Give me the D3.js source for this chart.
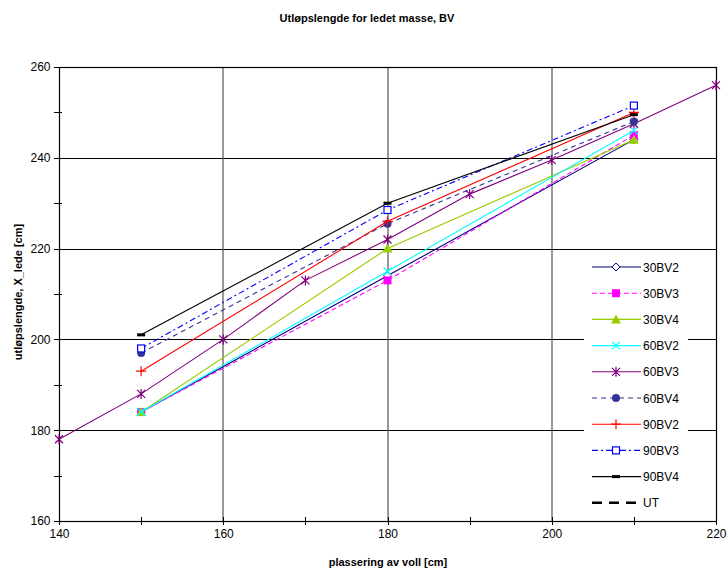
<!DOCTYPE html>
<html><head><meta charset="utf-8">
<script src="https://cdn.jsdelivr.net/npm/d3@7"></script>
<style>body{margin:0;background:#fff}svg{display:block}text{font-family:"Liberation Sans",Arial,sans-serif}</style>
</head><body>
<svg id="c" width="728" height="570"></svg>
<script>
const xA = [150, 180, 210];
const x60BV3 = [140, 150, 160, 170, 180, 190, 200, 210, 220];
const v30BV2 = [184, 214, 244];
const v30BV3 = [184, 213, 245];
const v30BV4 = [184, 220, 244];
const v60BV2 = [184, 215, 246];
const v60BV3 = [178, 188, 200, 213, 222, 232, 239.5, 247.5, 256];
const v60BV4 = [197, 225.5, 248];
const v90BV2 = [193, 226, 250];
const v90BV3 = [198, 228.5, 251.5];
const v90BV4 = [201, 230, 249.5];
const vUT = [];
const xTicks = [140, 160, 180, 200, 220];
const yTicks = [160, 180, 200, 220, 240, 260];

const series = [
  {name:"30BV2", xs:xA, ys:v30BV2, color:"#000080", dash:null, marker:"diamond", fill:false},
  {name:"30BV3", xs:xA, ys:v30BV3, color:"#FF00FF", dash:"5,3", marker:"square", fill:true},
  {name:"30BV4", xs:xA, ys:v30BV4, color:"#99CC00", dash:null, marker:"triangle", fill:true},
  {name:"60BV2", xs:xA, ys:v60BV2, color:"#00FFFF", dash:null, marker:"x", fill:false},
  {name:"60BV3", xs:x60BV3, ys:v60BV3, color:"#800080", dash:null, marker:"star", fill:false},
  {name:"60BV4", xs:xA, ys:v60BV4, color:"#333399", dash:"5,4", marker:"circle", fill:true},
  {name:"90BV2", xs:xA, ys:v90BV2, color:"#FF0000", dash:null, marker:"plus", fill:false},
  {name:"90BV3", xs:xA, ys:v90BV3, color:"#0000FF", dash:"6,3,2,3", marker:"osquare", fill:false},
  {name:"90BV4", xs:xA, ys:v90BV4, color:"#000000", dash:null, marker:"dash", fill:false},
  {name:"UT", xs:[], ys:vUT, color:"#000000", dash:"10,7", marker:null, fill:false, width:2.5}
];

const svg = d3.select("#c");
const L = 59, R = 716, T = 67, B = 521;
const x = d3.scaleLinear().domain([140, 220]).range([L, R]);
const y = d3.scaleLinear().domain([160, 260]).range([B, T]);

// gridlines
svg.append("g").selectAll("line").data(yTicks.filter(d => d > 160 && d < 260)).join("line")
  .attr("x1", L).attr("x2", R).attr("y1", d => Math.round(y(d)) + 0.5).attr("y2", d => Math.round(y(d)) + 0.5)
  .attr("stroke", "#000").attr("stroke-width", 1);
svg.append("g").selectAll("line").data(xTicks.filter(d => d > 140 && d < 220)).join("line")
  .attr("x1", d => Math.round(x(d))).attr("x2", d => Math.round(x(d))).attr("y1", T).attr("y2", B)
  .attr("stroke", "#555").attr("stroke-width", 1.2);

// axes
const xAxis = d3.axisBottom(x).tickValues(xTicks).tickSize(0).tickPadding(8).tickFormat(d3.format("d"));
const gx = svg.append("g").attr("transform", `translate(0,${B + 0.5})`).call(xAxis);
gx.select(".domain").remove();
gx.selectAll("text").attr("font-size", 12).attr("fill", "#000");
const yAxis = d3.axisLeft(y).tickValues(yTicks).tickSize(0).tickPadding(9).tickFormat(d3.format("d"));
const gy = svg.append("g").attr("transform", `translate(${L + 0.5},0)`).call(yAxis);
gy.select(".domain").remove();
gy.selectAll("text").attr("font-size", 12).attr("fill", "#000");

// minor/major ticks
svg.append("g").selectAll("line").data(d3.range(140, 221, 10)).join("line")
  .attr("x1", d => Math.round(x(d)) + 0.5).attr("x2", d => Math.round(x(d)) + 0.5)
  .attr("y1", B - 4).attr("y2", B + 4).attr("stroke", "#000");
svg.append("g").selectAll("line").data(d3.range(160, 261, 10)).join("line")
  .attr("x1", L - 5).attr("x2", L + 3)
  .attr("y1", d => Math.round(y(d)) + 0.5).attr("y2", d => Math.round(y(d)) + 0.5).attr("stroke", "#000");

// plot border
svg.append("rect").attr("x", L + 0.5).attr("y", T + 0.5).attr("width", R - L).attr("height", B - T)
  .attr("fill", "none").attr("stroke", "#000").attr("stroke-width", 1.2);

function drawMarker(g, s, cx, cy) {
  const c = s.color;
  switch (s.marker) {
    case "diamond":
      g.append("path").attr("d", `M${cx},${cy-4}L${cx+4},${cy}L${cx},${cy+4}L${cx-4},${cy}Z`)
        .attr("fill", "#fff").attr("stroke", c); break;
    case "square":
      g.append("rect").attr("x", cx-4).attr("y", cy-4).attr("width", 8).attr("height", 8).attr("fill", c); break;
    case "osquare":
      g.append("rect").attr("x", cx-3.5).attr("y", cy-3.5).attr("width", 7).attr("height", 7)
        .attr("fill", "#fff").attr("stroke", c).attr("stroke-width", 1.2); break;
    case "triangle":
      g.append("path").attr("d", `M${cx},${cy-5}L${cx+5},${cy+4}L${cx-5},${cy+4}Z`).attr("fill", c); break;
    case "x":
      g.append("path").attr("d", `M${cx-4},${cy-4}L${cx+4},${cy+4}M${cx-4},${cy+4}L${cx+4},${cy-4}`)
        .attr("stroke", c).attr("stroke-width", 1.2); break;
    case "star":
      g.append("path").attr("d", `M${cx-4},${cy-4}L${cx+4},${cy+4}M${cx-4},${cy+4}L${cx+4},${cy-4}M${cx},${cy-5}L${cx},${cy+5}`)
        .attr("stroke", c).attr("stroke-width", 1.2); break;
    case "circle":
      g.append("circle").attr("cx", cx).attr("cy", cy).attr("r", 4).attr("fill", c); break;
    case "plus":
      g.append("path").attr("d", `M${cx-5},${cy}L${cx+5},${cy}M${cx},${cy-5}L${cx},${cy+5}`)
        .attr("stroke", c).attr("stroke-width", 1.2); break;
    case "dash":
      g.append("rect").attr("x", cx-4).attr("y", cy-1.5).attr("width", 8).attr("height", 3).attr("fill", c); break;
  }
}

const line = d3.line().x(d => x(d[0])).y(d => y(d[1]));
series.forEach(s => {
  const pts = s.xs.map((v, i) => [v, s.ys[i]]);
  if (!pts.length) return;
  const g = svg.append("g");
  g.append("path").attr("d", line(pts)).attr("fill", "none").attr("stroke", s.color)
    .attr("stroke-width", s.width || 1.1).attr("stroke-dasharray", s.dash);
  pts.forEach(p => drawMarker(g, s, x(p[0]), y(p[1])));
});

// legend
const lg = svg.append("g");
lg.append("rect").attr("x", 584).attr("y", 254).attr("width", 104).attr("height", 262).attr("fill", "#fff");
series.forEach((s, i) => {
  const yy = 267 + i * 26.2;
  const gi = lg.append("g");
  gi.append("line").attr("x1", 592).attr("x2", 641).attr("y1", yy).attr("y2", yy)
    .attr("stroke", s.color).attr("stroke-width", s.width || 1.1).attr("stroke-dasharray", s.dash);
  drawMarker(gi, s, 616, yy);
  gi.append("text").attr("x", 643).attr("y", yy + 4.5).attr("font-size", 12).text(s.name);
});

// titles
svg.append("text").attr("x", 367).attr("y", 22).attr("text-anchor", "middle")
  .attr("font-size", 11).attr("font-weight", "bold").text("Utløpslengde for ledet masse, BV");
svg.append("text").attr("x", 388).attr("y", 566).attr("text-anchor", "middle")
  .attr("font-size", 11).attr("font-weight", "bold").text("plassering av voll [cm]");
svg.append("text").attr("transform", "translate(22,292) rotate(-90)").attr("text-anchor", "middle")
  .attr("font-size", 11).attr("font-weight", "bold").text("utløpslengde, X_lede [cm]");
</script>
</body></html>
